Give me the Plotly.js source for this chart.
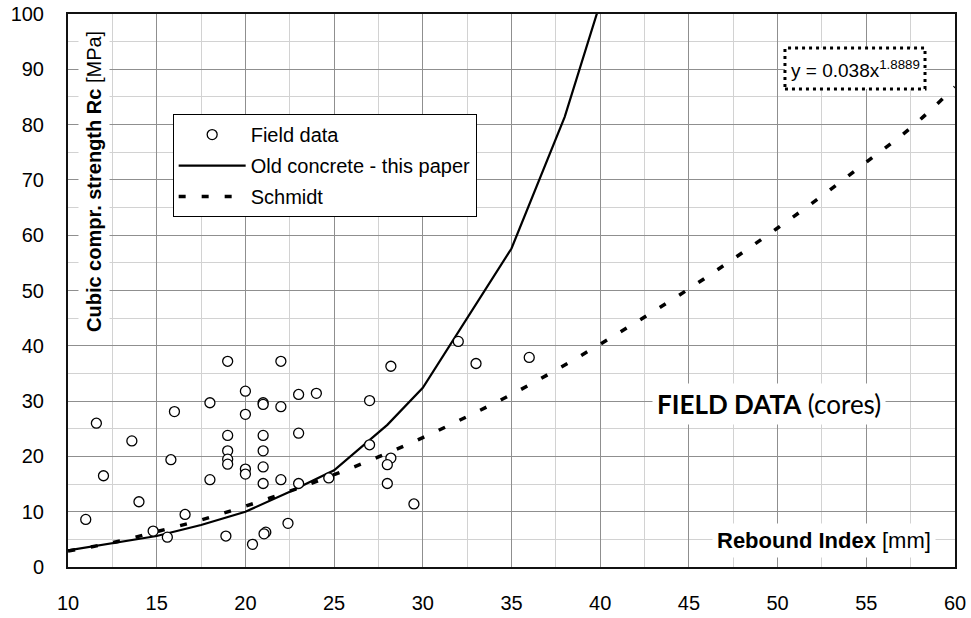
<!DOCTYPE html>
<html>
<head>
<meta charset="utf-8">
<script src="https://cdn.plot.ly/plotly-3.0.1.min.js"></script>
<style>
html,body{margin:0;padding:0;background:#ffffff;}
#chart{width:971px;height:618px;}
</style>
</head>
<body>
<div id="chart"></div>
<script>
// Field data (cores)
const fieldX = [11.0, 11.6, 12.0, 13.6, 14.0, 14.8, 15.6, 16.0, 15.8, 16.6,
                18.0, 18.0, 19.0, 19.0, 19.0, 19.0, 19.0, 18.9, 20.0, 20.0,
                20.0, 20.0, 20.4, 21.0, 21.0, 21.0, 21.0, 21.0, 21.0, 21.15,
                21.05, 22.0, 22.0, 22.0, 22.4, 23.0, 23.0, 23.0, 24.0, 24.7,
                32.0, 33.0, 36.0, 28.2, 27.0, 27.0, 28.2, 28.0, 28.0, 29.5];
const fieldY = [8.6, 26.0, 16.5, 22.8, 11.8, 6.5, 5.4, 28.1, 19.4, 9.5,
                29.7, 15.8, 37.2, 23.8, 21.0, 19.5, 18.6, 5.6, 31.8, 27.6,
                17.7, 16.8, 4.1, 29.7, 29.4, 23.8, 21.0, 18.1, 15.1, 6.3,
                6.0, 37.2, 29.0, 15.8, 7.9, 31.2, 24.2, 15.1, 31.4, 16.1,
                40.8, 36.8, 37.9, 36.3, 30.1, 22.1, 19.7, 18.5, 15.1, 11.4];

// Old concrete - this paper
const oldX = [10, 12.5, 15, 17.5, 20, 22.5, 25, 28, 30, 35, 38, 40];
const oldY = [3.0, 4.3, 5.6, 7.6, 10.0, 13.6, 17.5, 25.7, 32.4, 57.6, 81.4, 102];

// Schmidt
const schmidtX = [10, 12.5, 15, 17.5, 20, 22.5, 25, 27.5, 30, 32.5, 35, 37.5, 40,
                  42.5, 45, 47.5, 50, 52.5, 55, 57.5, 60];
const schmidtY = [2.9, 4.4, 6.4, 8.5, 11.0, 13.7, 16.7, 19.9, 23.4, 27.2, 31.2, 35.6, 40.3,
                  45.2, 50.3, 55.7, 61.3, 67.1, 73.2, 79.4, 86.8];

const seriesNames = ["Field data", "Old concrete - this paper", "Schmidt"];
const xTitle = "<b>Rebound Index</b> [mm]";
const yTitle = "<b>Cubic compr. strength Rc</b> [MPa]";
const fieldLabel = "<b>FIELD DATA</b> (cores)";
const equationLabel = "y = 0.038x<sup>1.8889</sup>";

const FONT = "'Liberation Sans', Arial, Helvetica, sans-serif";

const traces = [
  {
    x: oldX, y: oldY, type: "scatter", mode: "lines",
    name: seriesNames[1], legendgroup: "g2", legendrank: 2,
    line: {color: "#000000", width: 2.2},
    hoverinfo: "skip"
  },
  {
    x: schmidtX, y: schmidtY, type: "scatter", mode: "lines",
    name: seriesNames[2], legendgroup: "g3", legendrank: 3,
    line: {color: "#000000", width: 3.5, dash: "7px,16px", shape: "spline"},
    hoverinfo: "skip"
  },
  {
    x: fieldX, y: fieldY, type: "scatter", mode: "markers",
    name: seriesNames[0], legendgroup: "g1", legendrank: 1,
    marker: {symbol: "circle", size: 10, color: "#ffffff", line: {color: "#000000", width: 1.3}},
    cliponaxis: false
  }
];

const layout = {
  width: 971, height: 618,
  margin: {l: 68, r: 16, t: 14, b: 51, pad: 0},
  paper_bgcolor: "#ffffff", plot_bgcolor: "#ffffff",
  font: {family: FONT, color: "#000000", size: 20},
  showlegend: true,
  legend: {
    x: 0.118, y: 0.819, xanchor: "left", yanchor: "top",
    bgcolor: "#ffffff", bordercolor: "#000000", borderwidth: 1,
    font: {family: FONT, size: 20, color: "#000000"},
    itemwidth: 67, tracegroupgap: 2, traceorder: "grouped"
  },
  xaxis: {
    range: [10, 60], tick0: 10, dtick: 5,
    showgrid: true, gridcolor: "#8f8f8f", gridwidth: 1,
    minor: {dtick: 2.5, showgrid: true, gridcolor: "#d2d2d2", gridwidth: 1},
    showline: true, mirror: true, linecolor: "#111111", linewidth: 2,
    zeroline: false, ticks: "", ticklabelstandoff: 17,
    tickfont: {family: FONT, size: 20, color: "#000000"},
    fixedrange: true
  },
  yaxis: {
    range: [0, 100], tick0: 0, dtick: 10,
    showgrid: true, gridcolor: "#8f8f8f", gridwidth: 1,
    minor: {dtick: 5, showgrid: true, gridcolor: "#d2d2d2", gridwidth: 1},
    showline: true, mirror: true, linecolor: "#111111", linewidth: 2,
    zeroline: false, ticks: "", ticklabelstandoff: 18,
    tickfont: {family: FONT, size: 20, color: "#000000"},
    fixedrange: true
  },
  shapes: [
    {
      type: "rect", xref: "paper", yref: "paper",
      x0: 0.8083, x1: 0.9662, y0: 0.8644, y1: 0.9385,
      fillcolor: "#ffffff",
      line: {color: "#000000", width: 3, dash: "3px,4px"}
    }
  ],
  annotations: [
    {
      text: yTitle, xref: "paper", yref: "paper",
      x: 0.0293, y: 0.698, xanchor: "center", yanchor: "middle",
      textangle: -90, showarrow: false,
      font: {family: FONT, size: 20, color: "#000000"},
      bgcolor: "#ffffff", borderpad: 4
    },
    {
      text: xTitle, xref: "paper", yref: "paper",
      x: 0.852, y: 0.0488, xanchor: "center", yanchor: "middle",
      showarrow: false,
      font: {family: FONT, size: 22, color: "#000000"},
      bgcolor: "#ffffff", borderpad: 4
    },
    {
      text: fieldLabel, xref: "paper", yref: "paper",
      x: 0.790, y: 0.295, xanchor: "center", yanchor: "middle",
      showarrow: false,
      font: {family: "Lato, 'Open Sans', sans-serif", size: 26, color: "#000000"},
      bgcolor: "#ffffff", borderpad: 4
    },
    {
      text: equationLabel, xref: "paper", yref: "paper",
      x: 0.8873, y: 0.9014, xanchor: "center", yanchor: "middle",
      showarrow: false,
      font: {family: FONT, size: 19, color: "#000000"}
    }
  ]
};

Plotly.newPlot("chart", traces, layout, {displayModeBar: false, staticPlot: true});
</script>
</body>
</html>
